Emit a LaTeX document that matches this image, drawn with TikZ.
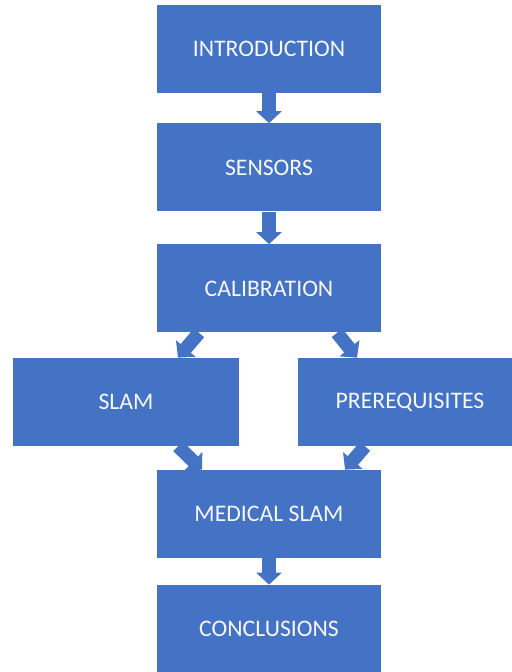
\documentclass[tikz,border=0pt]{standalone}
\usepackage{fontspec}
\setmainfont{Carlito}
\usetikzlibrary{positioning, arrows.meta}
\definecolor{secblue}{RGB}{68, 114, 196}

\begin{document}
\begin{tikzpicture}[
        stage/.style={
            minimum width=4.48cm, minimum height=1.76cm,
            align=center, inner sep=2pt,
            font=\fontsize{13.5}{16}\selectfont,
            fill=secblue, text=white!95!secblue
        },
        link/.style={
            draw=secblue, line width=0.27cm,
            -{Triangle[width=0.5cm, length=0.24cm]}
        }
    ]

    \clip (0, 0) rectangle (10.24, 13.44);

    \node[stage] (intro) at (5.38, 12.46) {INTRODUCTION};
    \node[stage] (sens) at (5.38, 10.09) {SENSORS};
    \node[stage] (calib) at (5.38, 7.67) {CALIBRATION};

    \node[stage, minimum width=4.52cm] (slam) at (2.52, 5.40) {SLAM};
    \node[stage] (prereq) at (8.20, 5.40) {PREREQUISITES};

    \node[stage] (medslam) at (5.38, 3.16) {MEDICAL SLAM};
    \node[stage] (concl) at (5.38, 0.86) {CONCLUSIONS};

    \draw[link] (intro.south) -- (sens.north);
    \draw[link] (sens.south) -- (calib.north);

    \draw[link] ([xshift=-1.40cm]calib.south) -- ([xshift=1.04cm]slam.north);
    \draw[link] ([xshift=1.36cm]calib.south) -- ([xshift=-1.06cm]prereq.north);

    \draw[link] ([xshift=1.04cm]slam.south) -- ([xshift=-1.34cm]medslam.north);
    \draw[link] ([xshift=-0.90cm]prereq.south) -- ([xshift=1.52cm]medslam.north);

    \draw[link] (medslam.south) -- (concl.north);

\end{tikzpicture}
\end{document}
